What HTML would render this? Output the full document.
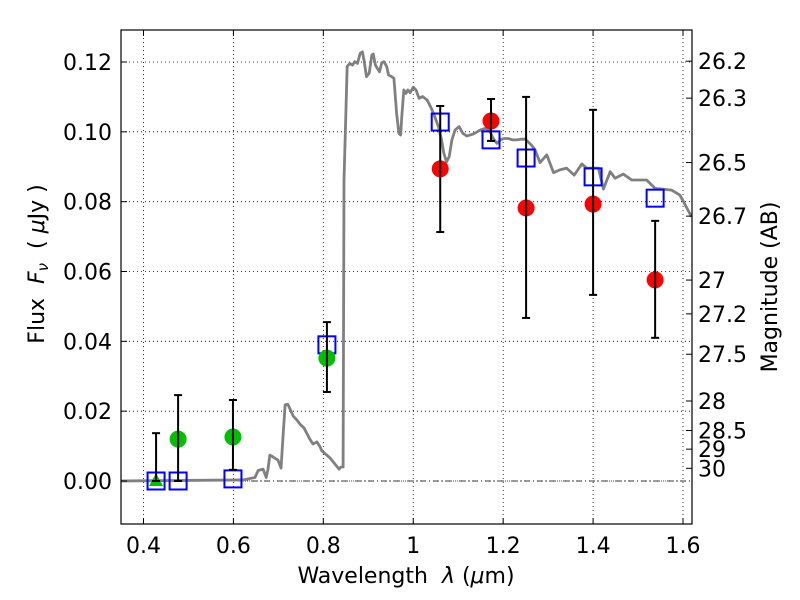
<!DOCTYPE html>
<html><head><meta charset="utf-8"><style>
body{margin:0;background:#fff}
svg{display:block;font-family:"DejaVu Sans","Liberation Sans",sans-serif}
text{white-space:pre}
</style></head><body>
<svg id="chart" width="800" height="600" viewBox="0 0 800 600" xmlns="http://www.w3.org/2000/svg"></svg>
<script>
const specLam=[0.350,0.621,0.648,0.655,0.666,0.673,0.677,0.681,0.688,0.699,0.706,0.710,0.715,0.721,0.726,0.733,0.741,0.748,0.757,0.770,0.777,0.786,0.793,0.797,0.815,0.835,0.839,0.844,0.846,0.853,0.859,0.865,0.870,0.876,0.882,0.887,0.891,0.896,0.902,0.908,0.911,0.916,0.920,0.925,0.930,0.935,0.941,0.945,0.952,0.957,0.963,0.968,0.972,0.974,0.979,0.984,0.988,0.993,1.000,1.006,1.013,1.021,1.031,1.041,1.048,1.056,1.063,1.068,1.074,1.080,1.086,1.093,1.102,1.110,1.119,1.134,1.149,1.160,1.169,1.178,1.186,1.194,1.202,1.211,1.221,1.230,1.241,1.249,1.263,1.271,1.282,1.297,1.312,1.326,1.341,1.358,1.375,1.386,1.412,1.423,1.438,1.449,1.467,1.486,1.519,1.538,1.575,1.593,1.619];
const specFlux=[0,0.0003,0.001,0.003,0.0034,0.001,0.0034,0.0074,0.0069,0.006,0.0037,0.012,0.0218,0.022,0.0206,0.0186,0.0175,0.0163,0.0152,0.012,0.0106,0.0112,0.0097,0.0086,0.0066,0.0034,0.004,0.004,0.086,0.1187,0.1196,0.1191,0.1201,0.1196,0.1225,0.1229,0.1201,0.1158,0.1168,0.1220,0.1223,0.1191,0.1182,0.1172,0.1198,0.1201,0.1187,0.1163,0.1158,0.1153,0.1053,0.0996,0.0991,0.1034,0.1120,0.1110,0.1120,0.1112,0.1128,0.1120,0.1096,0.1101,0.1091,0.1065,0.1043,0.1015,0.0977,0.0939,0.0914,0.0929,0.0977,0.1005,0.1015,0.0996,0.0988,0.0994,0.1005,0.1010,0.1005,0.0981,0.0967,0.0977,0.0981,0.0981,0.0977,0.0977,0.0979,0.0979,0.0962,0.0948,0.0912,0.0934,0.0883,0.0891,0.0896,0.0876,0.0908,0.0896,0.0896,0.0836,0.0886,0.0867,0.0879,0.0862,0.0862,0.0838,0.0833,0.0819,0.0757];
const greenLam=[0.477,0.599,0.808];
const greenFlux=[0.0120,0.0126,0.0352];
const greenLo=[0.0000,0.0032,0.0255];
const greenHi=[0.0246,0.0232,0.0455];
const triLam=[0.428];
const triFlux=[0.0000];
const triHi=[0.0137];
const redLam=[1.060,1.173,1.251,1.400,1.538];
const redFlux=[0.0894,0.1031,0.0782,0.0793,0.0576];
const redLo=[0.0713,0.0974,0.0467,0.0533,0.0410];
const redHi=[0.1074,0.1094,0.1100,0.1063,0.0745];
const modelLam=[0.428,0.477,0.599,0.808,1.060,1.173,1.251,1.400,1.538];
const modelFlux=[0,0,0.0006,0.039,0.1028,0.0977,0.0925,0.0871,0.081];
const xTicks=[0.4,0.6,0.8,1.0,1.2,1.4,1.6];
const xTickLabels=["0.4","0.6","0.8","1","1.2","1.4","1.6"];
const yTicks=[0,0.02,0.04,0.06,0.08,0.10,0.12];
const yTickLabels=["0.00","0.02","0.04","0.06","0.08","0.10","0.12"];
const magTicks=[26.2,26.3,26.5,26.7,27,27.2,27.5,28,28.5,29,30];
const magLabels=["26.2","26.3","26.5","26.7","27","27.2","27.5","28","28.5","29","30"];

const L=121,R=692,T=30,B=524;
const xMin=0.35,xMax=1.62;
const X=v=>L+(v-xMin)/(xMax-xMin)*(R-L);
const Y=v=>481-v*3491.7;
const svg=document.getElementById('chart');
const NS='http://www.w3.org/2000/svg';
function mk(tag,attrs,parent){const e=document.createElementNS(NS,tag);for(const k in attrs)e.setAttribute(k,attrs[k]);(parent||svg).appendChild(e);return e;}

xTicks.forEach((v,i)=>{
  const g=mk('line',{x1:X(v),x2:X(v),y1:T,y2:B,stroke:'#000','stroke-width':0.8,'stroke-dasharray':'1,3'});
  
  
});
yTicks.forEach(v=>{
  const g=mk('line',{x1:L,x2:R,y1:Y(v),y2:Y(v),stroke:'#000','stroke-width':0.8,'stroke-dasharray':'1,3'});
  
  
});
const z=mk('line',{x1:L,x2:R,y1:Y(0),y2:Y(0),stroke:'#000','stroke-width':0.8,'stroke-dasharray':'6,3,1,3'});



const clip=mk('clipPath',{id:'pc'});mk('rect',{x:L,y:T,width:R-L,height:B-T},clip);
const sp=mk('polyline',{points:specLam.map((l,i)=>X(l)+','+Y(specFlux[i])).join(' '),fill:'none',stroke:'#808080','stroke-width':2.8,'stroke-linejoin':'round','clip-path':'url(#pc)'});



function errbar(l,lo,hi){
  const g=mk('g',{stroke:'#000','stroke-width':2});
  
  
  mk('line',{x1:X(l),x2:X(l),y1:Y(lo),y2:Y(hi)},g);
  mk('line',{x1:X(l)-4,x2:X(l)+4,y1:Y(lo),y2:Y(lo)},g);
  mk('line',{x1:X(l)-4,x2:X(l)+4,y1:Y(hi),y2:Y(hi)},g);
}
modelLam.forEach((l,i)=>{
  const s=mk('rect',{x:X(l)-8.5,y:Y(modelFlux[i])-8.5,width:17,height:17,fill:'none',stroke:'#0000ff','stroke-width':2});
  
  
});
greenLam.forEach((l,i)=>{
  const c=mk('circle',{cx:X(l),cy:Y(greenFlux[i]),r:8.5,fill:'#00bf00'});
  
  
  errbar(l,greenLo[i],greenHi[i]);
});
triLam.forEach((l,i)=>{
  const x=X(l),y=Y(triFlux[i]);
  const t=mk('polygon',{points:`${x},${y-8} ${x-7},${y+5} ${x+7},${y+5}`,fill:'#00bf00'});
  
  
  errbar(l,triFlux[i],triHi[i]);
});
redLam.forEach((l,i)=>{
  const c=mk('circle',{cx:X(l),cy:Y(redFlux[i]),r:8.5,fill:'#ff0000'});
  
  
  errbar(l,redLo[i],redHi[i]);
});

const fr=mk('rect',{x:L,y:T,width:R-L,height:B-T,fill:'none',stroke:'#000','stroke-width':1.2});



xTicks.forEach((v,i)=>{
  mk('line',{x1:X(v),x2:X(v),y1:B,y2:B-6,stroke:'#000'});
  mk('line',{x1:X(v),x2:X(v),y1:T,y2:T+6,stroke:'#000'});
  const t=mk('text',{x:X(v),y:B+29,'text-anchor':'middle','font-size':22});
  t.textContent=xTickLabels[i];
  
  
});
yTicks.forEach((v,i)=>{
  mk('line',{x1:L,x2:L+6,y1:Y(v),y2:Y(v),stroke:'#000'});
  const t=mk('text',{x:L-9,y:Y(v)+8,'text-anchor':'end','font-size':22});
  t.textContent=yTickLabels[i];
  
  
});
magTicks.forEach((m,i)=>{
  const f=Math.pow(10,(23.9-m)/2.5);
  mk('line',{x1:R,x2:R-6,y1:Y(f),y2:Y(f),stroke:'#000'});
  const t=mk('text',{x:R+6,y:Y(f)+8,'font-size':22});
  t.textContent=magLabels[i];
  
  
});
</script>
<svg style="position:absolute;left:0;top:0" width="800" height="600">
<text x="406" y="583" text-anchor="middle" font-size="22" font-family="DejaVu Sans, Liberation Sans, sans-serif">Wavelength  <tspan font-style="italic">λ</tspan> (<tspan font-style="italic">μ</tspan>m)</text>
<text transform="translate(44,264) rotate(-90)" text-anchor="middle" font-size="22" font-family="DejaVu Sans, Liberation Sans, sans-serif">Flux  <tspan font-style="italic">F</tspan><tspan font-style="italic" font-size="15" dy="4">ν</tspan><tspan dy="-4">  ( </tspan><tspan font-style="italic">μ</tspan>Jy )</text>
<text transform="translate(777,287) rotate(-90)" text-anchor="middle" font-size="22" font-family="DejaVu Sans, Liberation Sans, sans-serif">Magnitude (AB)</text>
</svg>
</body></html>
